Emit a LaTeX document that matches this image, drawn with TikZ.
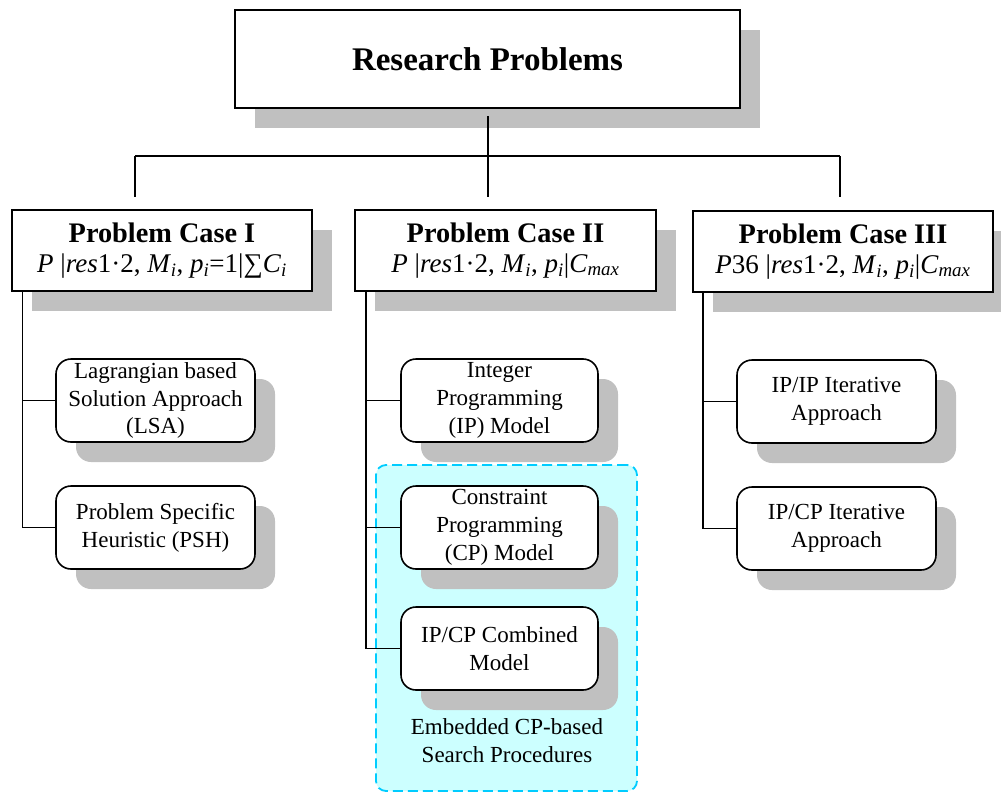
\documentclass[tikz,border=0pt]{standalone}
\usepackage{fontspec}
\setmainfont{Liberation Serif}
\usetikzlibrary{shadows}

\definecolor{shadowgray}{RGB}{192,192,192}
\definecolor{groupfill}{RGB}{204,255,255}
\definecolor{groupline}{RGB}{0,204,255}

% formula helpers
\newcommand{\vi}[1]{\textit{#1}}
\newcommand{\sbi}[1]{\textsubscript{\textit{#1}}}
\newcommand{\casetitle}[1]{{\fontsize{28.3}{29}\selectfont\bfseries #1}}

\tikzset{
  x=1pt, y=-1pt,
  shade box/.style={drop shadow={shadow xshift=20pt, shadow yshift=-20pt,
      opacity=1, fill=shadowgray}},
  titlebox/.style={draw, line width=1.3pt, fill=white, shade box,
      minimum width=505pt, minimum height=98pt, inner sep=0pt,
      font=\fontsize{33}{38}\selectfont\bfseries},
  casebox/.style={draw, line width=1.3pt, fill=white, shade box,
      minimum height=81pt, inner sep=0pt, align=center,
      font=\fontsize{27}{29.5}\selectfont},
  methodbox/.style={draw, line width=1.6pt, fill=white, rounded corners=15pt,
      shade box, minimum width=199pt, minimum height=83pt, inner sep=0pt,
      align=center, font=\fontsize{23}{27.7}\selectfont},
  link/.style={line width=2pt},
  branch/.style={line width=1.3pt},
}

\begin{document}
\begin{tikzpicture}
\useasboundingbox (0,0) rectangle (1001,792);

% group of CP-based procedures
\node[draw=groupline, fill=groupfill, dashed, dash pattern=on 10pt off 5pt,
      line width=1.8pt, rounded corners=10pt, minimum width=261pt,
      minimum height=326pt, inner sep=0pt] (group) at (506.5,628) {};
\node[font=\fontsize{23}{28}\selectfont, align=center] (grouplabel) at (507,741)
  {Embedded CP-based\\Search Procedures};

% top level
\node[titlebox] (top) at (487.5,59) {Research Problems};

% problem cases
\node[casebox, minimum width=300pt] (c1) at (162,250.5)
  {\casetitle{Problem Case I}\\
   \vi{P} |\vi{res}1·2, \vi{M}\sbi{i}, \vi{p}\sbi{i}=1|∑\vi{C}\sbi{i}};
\node[casebox, minimum width=301pt] (c2) at (505.5,250.5)
  {\casetitle{Problem Case II}\\
   \vi{P} |\vi{res}1·2, \vi{M}\sbi{i}, \vi{p}\sbi{i}|\vi{C}\sbi{max}};
\node[casebox, minimum width=300pt] (c3) at (843,251.5)
  {\casetitle{Problem Case III}\\
   \vi{P}36 |\vi{res}1·2, \vi{M}\sbi{i}, \vi{p}\sbi{i}|\vi{C}\sbi{max}};

% solution approaches
\node[methodbox] (lsa) at (155.5,400.5) {Lagrangian based\\Solution Approach\\(LSA)};
\node[methodbox] (psh) at (155.5,527.5) {Problem Specific\\Heuristic (PSH)};
\node[methodbox, minimum width=197pt] (ip) at (499.5,400.5) {Integer\\Programming\\(IP) Model};
\node[methodbox, minimum width=197pt] (cp) at (499.5,527.5) {Constraint\\Programming\\(CP) Model};
\node[methodbox, minimum width=197pt] (ipcp) at (499.5,648.5) {IP/CP Combined\\Model};
\node[methodbox] (ipip) at (836.5,401.5) {IP/IP Iterative\\Approach};
\node[methodbox] (ipcpit) at (836.5,528.5) {IP/CP Iterative\\Approach};

% tree connectors
\coordinate (stem) at (487.5,116);
\coordinate (bus) at (487.5,156);
\coordinate (busL) at (135,156);
\coordinate (busR) at (839.5,156);
\coordinate (d1) at (135,197);
\coordinate (d2) at (487.5,197);
\coordinate (d3) at (839.5,197);
\draw[link] (stem) -- (bus);
\draw[link] (busL) -- (busR);
\draw[link] (busL) -- (d1);
\draw[link] (bus) -- (d2);
\draw[link] (busR) -- (d3);

% case branches
\coordinate (t1) at (22.5,291);
\coordinate (t2) at (366,291);
\coordinate (t3) at (703,292);
\draw[branch] (t1) |- (lsa.west);
\draw[branch] (t1) |- (psh.west);
\draw[branch] (t2) |- (ip.west);
\draw[branch] (t2) |- (cp.west);
\draw[branch] (t2) |- (ipcp.west);
\draw[branch] (t3) |- (ipip.west);
\draw[branch] (t3) |- (ipcpit.west);
\end{tikzpicture}
\end{document}
